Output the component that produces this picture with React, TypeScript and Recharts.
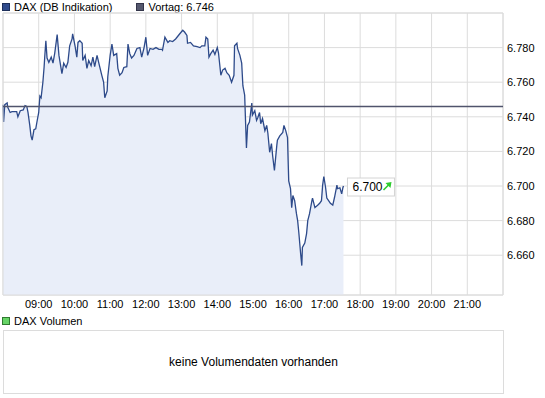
import React from 'react';
import {
  ComposedChart,
  Area,
  XAxis,
  YAxis,
  CartesianGrid,
  ReferenceLine,
  ReferenceDot,
} from 'recharts';

// DAX intraday (DB Indikation)
const times = [
  '08:00', '08:01', '08:03', '08:07', '08:08', '08:12', '08:15', '08:20', '08:23', '08:25',
  '08:29', '08:34', '08:37', '08:40', '08:42', '08:45', '08:47', '08:49', '08:52', '08:55',
  '08:57', '09:00', '09:02', '09:04', '09:07', '09:09', '09:10', '09:12', '09:14', '09:17',
  '09:21', '09:24', '09:27', '09:31', '09:34', '09:39', '09:42', '09:46', '09:49', '09:52',
  '09:56', '09:57', '10:01', '10:04', '10:06', '10:09', '10:13', '10:14', '10:18', '10:21',
  '10:24', '10:28', '10:31', '10:34', '10:38', '10:41', '10:46', '10:49', '10:51', '10:55',
  '10:56', '11:00', '11:03', '11:06', '11:11', '11:13', '11:16', '11:20', '11:23', '11:28',
  '11:30', '11:33', '11:36', '11:40', '11:45', '11:50', '11:53', '11:57', '12:00', '12:03',
  '12:07', '12:12', '12:17', '12:22', '12:27', '12:28', '12:32', '12:37', '12:40', '12:45',
  '12:50', '12:57', '13:02', '13:05', '13:09', '13:10', '13:15', '13:20', '13:26', '13:31',
  '13:34', '13:39', '13:41', '13:44', '13:46', '13:49', '13:53', '13:56', '14:00', '14:02',
  '14:06', '14:09', '14:13', '14:16', '14:20', '14:24', '14:28', '14:29', '14:33', '14:34',
  '14:38', '14:41', '14:43', '14:46', '14:48', '14:49', '14:51', '14:54', '14:58', '14:59',
  '15:03', '15:06', '15:08', '15:11', '15:13', '15:16', '15:20', '15:23', '15:25', '15:28',
  '15:31', '15:33', '15:36', '15:40', '15:41', '15:45', '15:50', '15:52', '15:55', '15:58',
  '15:59', '16:00', '16:03', '16:05', '16:07', '16:10', '16:13', '16:15', '16:17', '16:20',
  '16:22', '16:23', '16:27', '16:30', '16:32', '16:35', '16:39', '16:40', '16:44', '16:49',
  '16:52', '16:55', '16:57', '16:59', '17:02', '17:04', '17:07', '17:10', '17:14', '17:17',
  '17:21', '17:22', '17:26', '17:29', '17:31', '17:32',
];

const prices = [
  6747, 6737, 6747, 6748, 6745.5, 6742.5, 6743, 6743, 6743, 6740,
  6743.5, 6744, 6746.5, 6746, 6742.5, 6735, 6729, 6726.5, 6732.5, 6733,
  6737, 6742.5, 6752, 6751, 6760, 6768.5, 6774, 6784, 6774, 6771.5,
  6774.5, 6771, 6777, 6787.5, 6775.5, 6765, 6771, 6768.5, 6771.5, 6781,
  6785, 6788, 6781, 6774.5, 6783, 6784, 6782.5, 6772.5, 6775.5, 6768,
  6772.5, 6769.5, 6774.5, 6769, 6775.5, 6771, 6764, 6760, 6751, 6755,
  6763, 6775.5, 6782, 6775.5, 6776.5, 6768, 6764, 6765.5, 6768.5, 6769,
  6782, 6776.5, 6774, 6775.5, 6779.5, 6780, 6774.5, 6780, 6786, 6775.5,
  6779.5, 6779, 6780, 6779, 6779, 6778.5, 6786, 6783, 6784, 6783.5,
  6785, 6788, 6790, 6789, 6787, 6782.5, 6783, 6781, 6780.5, 6780,
  6781, 6781, 6786, 6785, 6774.5, 6776.5, 6778.5, 6776, 6780, 6777,
  6764, 6767, 6768, 6765.5, 6764, 6760, 6764, 6781, 6782.5, 6779.5,
  6775.5, 6771, 6758, 6752.5, 6732, 6722, 6735, 6737, 6748, 6741,
  6743.5, 6738, 6739.5, 6742.5, 6736, 6739, 6732, 6735, 6730.5, 6719.5,
  6724.5, 6717.5, 6709, 6723.5, 6726.5, 6729, 6731, 6735, 6732, 6728,
  6715, 6703, 6698.5, 6687.5, 6694.5, 6691.5, 6684, 6680, 6673, 6661,
  6654, 6664.5, 6667, 6672.5, 6680, 6684, 6691.5, 6693, 6687.5, 6689,
  6690, 6691.5, 6700.5, 6705.5, 6699, 6693, 6691.5, 6690, 6689, 6693.5,
  6700.5, 6698.5, 6699, 6695.5, 6699, 6700,
];

const hourTicks = ['09:00', '10:00', '11:00', '12:00', '13:00', '14:00', '15:00', '16:00', '17:00', '18:00', '19:00', '20:00', '21:00'];
const priceTicks = [6660, 6680, 6700, 6720, 6740, 6760, 6780];
const vortag = 6746;
const seriesName = 'DAX (DB Indikation)';
const volumeName = 'DAX Volumen';
const noVolumeText = 'keine Volumendaten vorhanden';

const toMin = (t: string) => {
  const [h, m] = t.split(':').map(Number);
  return h * 60 + m;
};

const data = times.map((t, i) => ({ t: toMin(t), price: prices[i] }));
const xTicks = hourTicks.map(toMin);
const X_MIN = toMin('08:00');
const X_MAX = toMin('22:00');
const Y_MIN = 6637;
const Y_MAX = 6800;

const fmtPrice = (v: number) => (v / 1000).toFixed(3);
const fmtHour = (m: number) => String(Math.floor(m / 60)).padStart(2, '0') + ':00';

const font = '"Liberation Sans", Arial, sans-serif';
const gridColor = '#dcdcdc';

const last = data[data.length - 1];

const PriceTag = (props: any) => {
  const { cx, cy } = props;
  if (cx == null || cy == null) return null;
  const bx = cx + 4;
  const by = cy - 8;
  return (
    <g>
      <rect x={bx} y={by} width={47} height={18} fill="#fff" stroke="#d4d4d4" />
      <text x={bx + 5} y={cy + 5} fontSize={12} fontFamily={font} fill="#000">
        {fmtPrice(last.price)}
      </text>
      <line x1={bx + 36} y1={cy + 4} x2={bx + 42} y2={cy - 2} stroke="#2ecc2e" strokeWidth={1.6} />
      <polygon points={`${bx + 44},${cy - 4} ${bx + 38},${cy - 3} ${bx + 43},${cy + 2}`} fill="#2ecc2e" />
    </g>
  );
};

const Square = ({ color, border }: { color: string; border: string }) => (
  <span
    style={{
      display: 'inline-block',
      width: 6,
      height: 6,
      background: color,
      border: `1px solid ${border}`,
      marginRight: 4,
      verticalAlign: 'middle',
      position: 'relative',
      top: -1,
    }}
  />
);

export default function App() {
  return (
    <div
      style={{
        position: 'absolute',
        left: 0,
        top: 0,
        width: 545,
        height: 398,
        background: '#fff',
        fontFamily: font,
        fontSize: 11,
        color: '#000',
      }}
    >
      <div style={{ position: 'absolute', left: 2, top: 0, lineHeight: '14px', whiteSpace: 'nowrap' }}>
        <Square color="#2f4b8c" border="#1d2f5a" />
        <span>{seriesName}</span>
        <span style={{ display: 'inline-block', width: 24 }} />
        <Square color="#55586e" border="#33354a" />
        <span>Vortag: {fmtPrice(vortag)}</span>
      </div>

      <div style={{ position: 'absolute', left: 0, top: 0 }}>
        <ComposedChart
          width={545}
          height={320}
          data={data}
          margin={{ top: 13, right: 0, bottom: 5, left: 3 }}
        >
          <CartesianGrid stroke={gridColor} vertical horizontal />
          <XAxis
            dataKey="t"
            type="number"
            domain={[X_MIN, X_MAX]}
            ticks={xTicks}
            tickFormatter={fmtHour}
            tickLine={false}
            axisLine={false}
            tickSize={0}
            tickMargin={5}
            height={20}
            interval={0}
            tick={{ fill: '#000', fontSize: 11, fontFamily: font }}
          />
          <YAxis
            orientation="right"
            type="number"
            domain={[Y_MIN, Y_MAX]}
            ticks={priceTicks}
            tickFormatter={fmtPrice}
            tickLine={false}
            axisLine={false}
            tickSize={0}
            tickMargin={4}
            width={42}
            interval={0}
            allowDataOverflow
            tick={{ fill: '#000', fontSize: 11, fontFamily: font, textAnchor: 'start' }}
          />
          <ReferenceLine x={X_MIN} stroke={gridColor} />
          <ReferenceLine x={X_MAX} stroke={gridColor} />
          <ReferenceLine y={Y_MIN} stroke={gridColor} />
          <ReferenceLine y={Y_MAX} stroke={gridColor} />
          <Area
            type="linear"
            dataKey="price"
            stroke="#2d4a8a"
            strokeWidth={1.3}
            fill="#e9eef9"
            fillOpacity={1}
            baseValue={Y_MIN}
            dot={false}
            activeDot={false}
            isAnimationActive={false}
          />
          <ReferenceLine y={vortag} stroke="#50546c" strokeWidth={1.5} />
          <ReferenceDot x={last.t} y={last.price} r={0} shape={PriceTag} />
        </ComposedChart>
      </div>

      <div style={{ position: 'absolute', left: 2, top: 314, lineHeight: '14px', whiteSpace: 'nowrap' }}>
        <Square color="#66d466" border="#2f7a2f" />
        <span>{volumeName}</span>
      </div>
      <div
        style={{
          position: 'absolute',
          left: 3,
          top: 330,
          width: 499,
          height: 62,
          border: `1px solid ${gridColor}`,
          display: 'flex',
          alignItems: 'center',
          justifyContent: 'center',
          fontSize: 12,
        }}
      >
        {noVolumeText}
      </div>
    </div>
  );
}
